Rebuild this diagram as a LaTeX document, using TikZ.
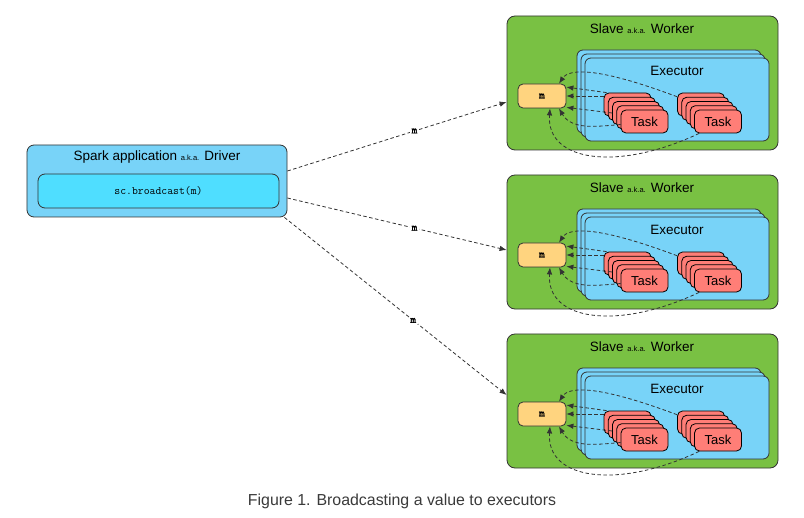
\documentclass[tikz,border=0pt]{standalone}
\usepackage{fontspec}
\setmainfont{Liberation Sans}
\newfontfamily\valuefont{lmmono10-regular.otf}[FakeBold=2]
\usepackage{xcolor}
\usepackage{tikz}
\usetikzlibrary{arrows.meta, calc}
\definecolor{workergreen}{HTML}{79C143}
\definecolor{execblue}{HTML}{78D3F8}
\definecolor{drivercyan}{HTML}{4FDEFF}
\definecolor{valueorange}{HTML}{FFD47F}
\definecolor{taskred}{HTML}{FF7E77}
\definecolor{edgegray}{HTML}{333333}
\definecolor{captiongray}{HTML}{3A3A3A}
\newcommand{\akatext}{{\fontsize{7.5bp}{8bp}\selectfont a.k.a.}}
\tikzstyle{worker} = [rectangle, rounded corners=8bp, minimum width=271bp, minimum height=134bp, inner sep=0pt, draw=edgegray, line width=0.8bp, fill=workergreen]
\tikzstyle{executor} = [rectangle, rounded corners=6bp, minimum width=184bp, minimum height=83bp, inner sep=0pt, draw=edgegray, line width=0.8bp, fill=execblue]
\tikzstyle{task} = [rectangle, rounded corners=5bp, minimum width=47bp, minimum height=23bp, inner sep=0pt, draw=black, line width=0.8bp, fill=taskred, font=\fontsize{13bp}{15bp}\selectfont]
\tikzstyle{valuebox} = [rectangle, rounded corners=5bp, minimum width=48bp, minimum height=24bp, inner sep=0pt, draw=edgegray, line width=0.8bp, fill=valueorange, font=\valuefont\fontsize{11bp}{12bp}\selectfont]
\tikzstyle{driver} = [rectangle, rounded corners=7bp, minimum width=260bp, minimum height=72bp, inner sep=0pt, draw=edgegray, line width=0.8bp, fill=execblue]
\tikzstyle{bcastbox} = [rectangle, rounded corners=7bp, minimum width=241bp, minimum height=34bp, inner sep=0pt, draw=edgegray, line width=0.8bp, fill=drivercyan, font=\ttfamily\fontsize{11.4bp}{13bp}\selectfont]
\tikzstyle{boxtitle} = [inner sep=0pt, font=\fontsize{13.5bp}{16bp}\selectfont]
\tikzstyle{msglabel} = [fill=white, inner sep=1.5bp, font=\valuefont\fontsize{11bp}{12bp}\selectfont]
\tikzstyle{arrow} = [-{Latex[length=7bp,width=5.5bp]}, dash pattern=on 3.5bp off 2.5bp, draw=edgegray, line width=0.8bp]

\begin{document}
\begin{tikzpicture}[x=1bp, y=-1bp]
    \useasboundingbox (0,0) rectangle (804,518);
    \node (driver) [driver] at (157,181) {};
    \node (drivertitle) [boxtitle] at (157,157) {Spark application \akatext{} Driver};
    \node (bcast) [bcastbox] at (158.5,191) {sc.broadcast(m)};

    \foreach \w/\top in {1/16, 2/175, 3/334} {
        \node (w\w) [worker] at (642.5,\top+67) {};
        \node (w\w-title) [boxtitle] at (642,\top+13) {Slave \akatext{} Worker};
        % executor stack
        \foreach \i in {0,1,2}
            \node (e\w-\i) [executor] at (669+4*\i,\top+75.5+4*\i) {};
        \node (e\w-label) [boxtitle] at (677,\top+55) {Executor};
        % task stacks
        \foreach \i in {4,...,1} {
            \node (t\w-a-\i) [task] at (644.5-4.25*\i,\top+105.5-4.25*\i) {};
            \node (t\w-b-\i) [task] at (718-4.25*\i,\top+105.5-4.25*\i) {};
        }
        \node (t\w-a-0) [task] at (644.5,\top+105.5) {Task};
        \node (t\w-b-0) [task] at (718,\top+105.5) {Task};
        \node (m\w) [valuebox] at (542,\top+80) {m};
        % tasks read m
        \draw [arrow] (t\w-b-4.162) .. controls +(-80,-30) and +(10,-15) .. ([xshift=17bp]m\w.north);
        \draw [arrow] ([xshift=3bp]t\w-a-4.north west) -- (m\w.20);
        \draw [arrow] (t\w-a-4.west |- m\w.east) -- (m\w.east);
        \draw [arrow] (t\w-a-2.west) -- (m\w.-25);
        \draw [arrow] ([yshift=-3bp]t\w-a-0.west) to[out=185,in=-60] ([xshift=17bp]m\w.south);
        \draw [arrow] ([xshift=5bp]t\w-b-0.south west) .. controls +(-80,38) and +(-4,54) .. ([xshift=8bp]m\w.south);
    }

    \draw [arrow] ([yshift=10bp]driver.east) -- node[msglabel, pos=0.58] {m} ([yshift=-19bp]w1.west);
    \draw [arrow] ([yshift=-17bp]driver.east) -- node[msglabel, pos=0.58] {m} ([yshift=-8bp]w2.west);
    \draw [arrow] ([xshift=-3bp]driver.south east) -- node[msglabel, pos=0.58] {m} ([yshift=6bp]w3.west);

    \node (caption) [font=\fontsize{15.9bp}{18bp}\selectfont, text=captiongray] at (402,501) {Figure 1. Broadcasting a value to executors};
\end{tikzpicture}
\end{document}
